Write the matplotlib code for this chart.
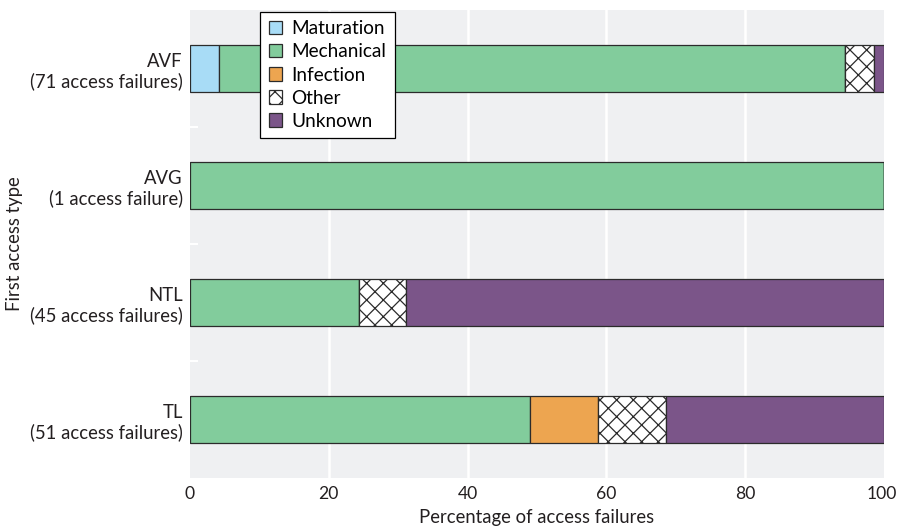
import numpy as np
import matplotlib
matplotlib.use("Agg")
import matplotlib.pyplot as plt
from matplotlib.transforms import ScaledTranslation

plt.rcParams['font.family'] = ['Lato', 'DejaVu Sans']
plt.rcParams['hatch.linewidth'] = 0.6
plt.rcParams['hatch.color'] = '#222222'

# data (percent of access failures)
access_types = ['AVF\n(71 access failures)', 'AVG\n(1 access failure)',
                'NTL\n(45 access failures)', 'TL\n(51 access failures)']
causes = ['Maturation', 'Mechanical', 'Infection', 'Other', 'Unknown']
maturation = [4.2, 0.0, 0.0, 0.0]
mechanical = [90.2, 100.0, 24.4, 49.0]
infection = [0.0, 0.0, 0.0, 9.8]
other = [4.2, 0.0, 6.7, 9.8]
unknown = [1.4, 0.0, 68.9, 31.4]

colors = ['#a8dcf6', '#82cc9c', '#eda550', 'white', '#7b5589']
hatches = [None, None, None, 'xxx', None]
fs = 8.9
txt = '#231f20'

fig = plt.figure(figsize=(898 / 150, 529 / 150), dpi=150)
ax = fig.add_axes([190 / 898, 1 - 478 / 529, 694 / 898, 468 / 529])
ax.set_facecolor('#eff0f2')

y = np.arange(len(access_types))[::-1]
left = np.zeros(len(access_types))
for name, vals, c, h in zip(causes, [maturation, mechanical, infection, other, unknown], colors, hatches):
    vals = np.array(vals)
    ax.barh(y, vals, left=left, height=0.41, color=c, edgecolor='#2b2b2b',
            linewidth=0.6, hatch=h, label=name, zorder=3)
    left += vals

ax.set_xlim(0, 100)
ax.set_ylim(-0.5, 3.5)
ax.set_xticks([0, 20, 40, 60, 80, 100])
ax.set_yticks(y)
ax.set_yticklabels(access_types, ha='right', linespacing=1.15)
ax.set_yticks([0.5, 1.5, 2.5], minor=True)
ax.tick_params(axis='y', which='minor', direction='in', length=4, width=1, color='white')
ax.tick_params(axis='both', which='major', length=0, labelsize=fs, colors=txt)
ax.tick_params(axis='x', pad=4, labelsize=8.4)
ax.tick_params(axis='y', pad=3.5)
# keep the "100" label inside the figure
last = ax.get_xticklabels()[-1]
last.set_transform(last.get_transform() + ScaledTranslation(-2 / 150, 0, fig.dpi_scale_trans))
for v in [20, 40, 60, 80]:
    ax.axvline(v, color='white', linewidth=1.2, zorder=1)
for s in ax.spines.values():
    s.set_visible(False)

ax.set_xlabel('Percentage of access failures', fontsize=fs, color=txt, labelpad=3)
ax.set_ylabel('First access type', fontsize=fs, color=txt)
ax.yaxis.set_label_coords(-0.241, 0.5)

leg = ax.legend(loc='upper left', bbox_to_anchor=(0.101, 0.996), borderaxespad=0,
                fontsize=9.1, handlelength=0.7, handleheight=0.7, handletextpad=0.5,
                labelspacing=0.32, fancybox=False, framealpha=1, edgecolor='black',
                borderpad=0.45)
leg.get_frame().set_linewidth(0.6)
leg.set_zorder(5)

fig.savefig('out.png', dpi=150)
